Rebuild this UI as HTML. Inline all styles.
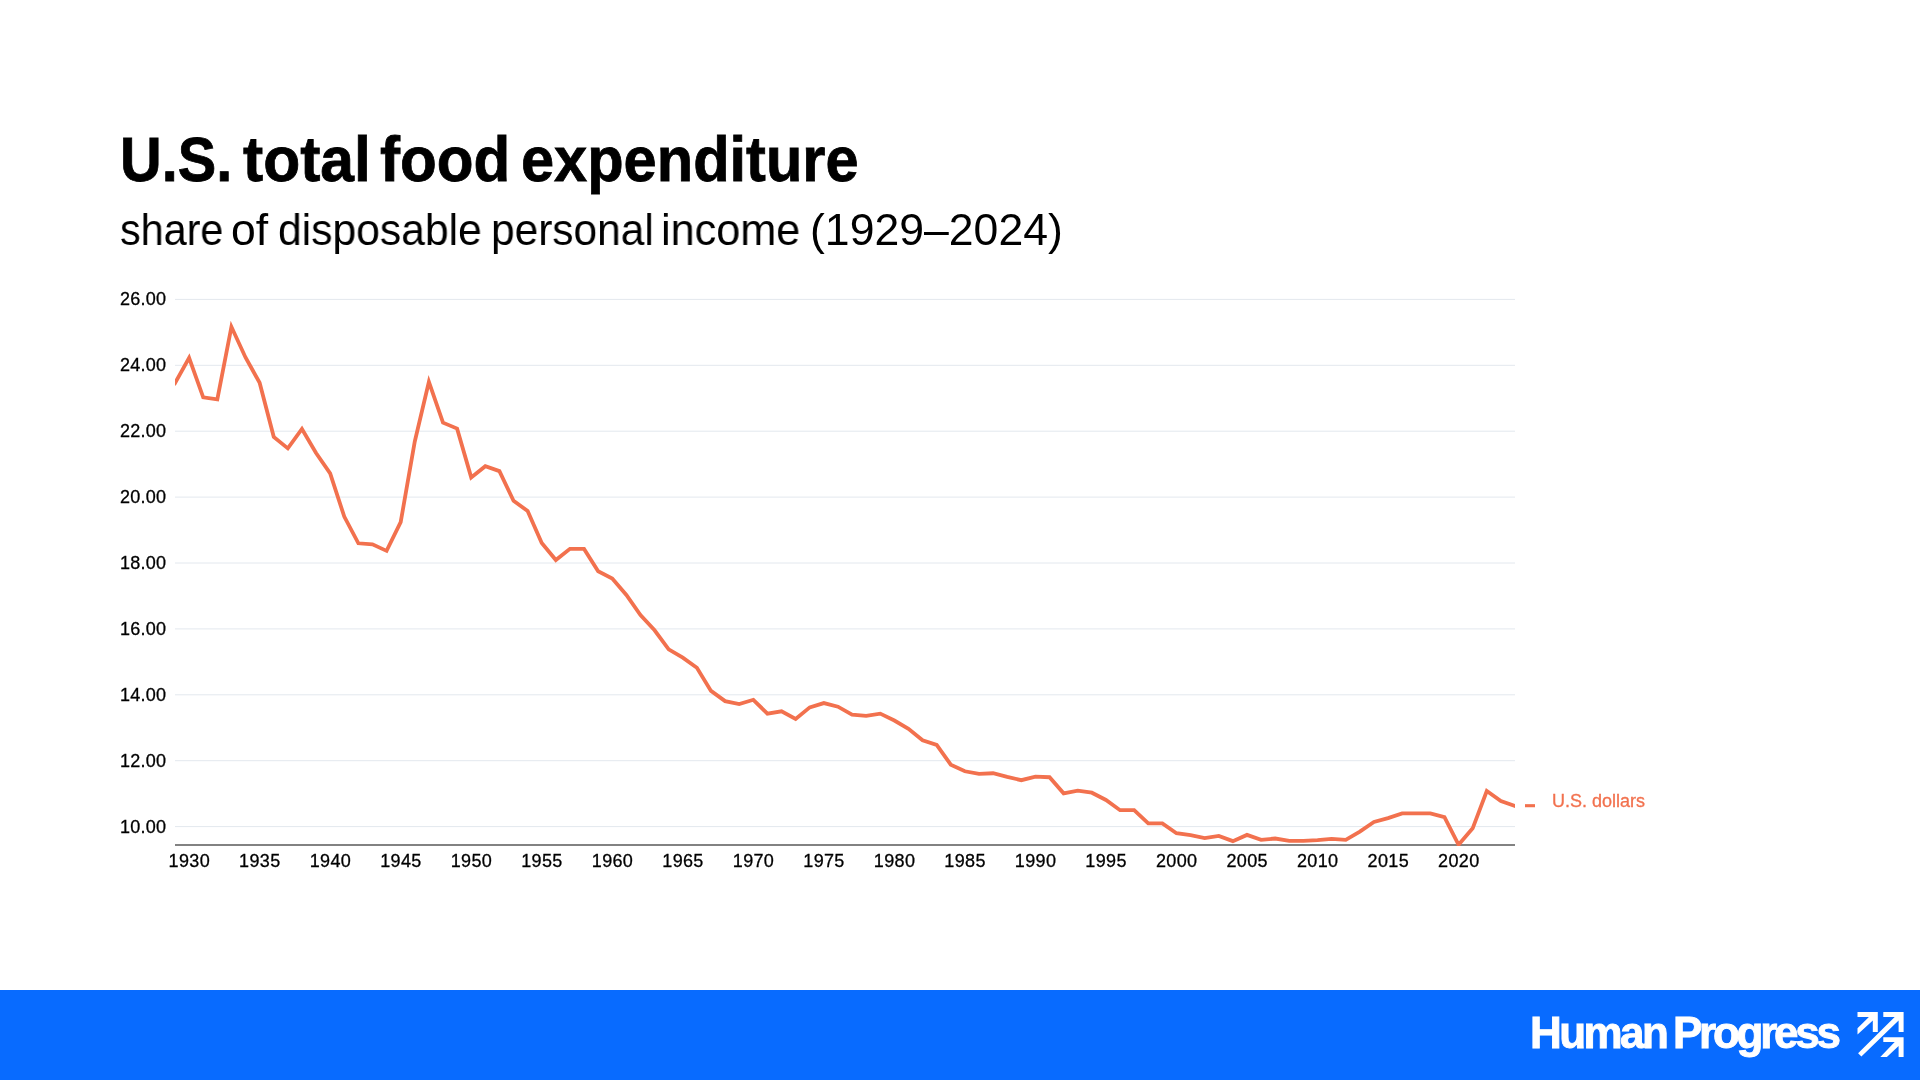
<!DOCTYPE html>
<html><head><meta charset="utf-8"><title>U.S. total food expenditure</title>
<style>
html,body{margin:0;padding:0;background:#fff;}
body{width:1920px;height:1080px;overflow:hidden;position:relative;font-family:"Liberation Sans",Arial,sans-serif;color:#000;}
h1,h2{position:absolute;left:0;margin:0;line-height:1;white-space:nowrap;}
h2 span,.brand span{will-change:transform;}
h1{top:128.4px;font-weight:700;font-size:63.5px;-webkit-text-stroke:0.8px #000;}
h2{top:208.3px;font-weight:400;font-size:44px;}
h1 span,h2 span,.brand span{position:absolute;top:0;transform-origin:0 0;}
svg.chart{position:absolute;left:0;top:0;will-change:transform;}
.grid line{stroke:#E3E8EE;stroke-width:1;}
.yl text,.xl text{font-family:"Liberation Sans",Arial,sans-serif;font-size:18px;fill:#000;stroke:#000;stroke-width:0.3px;}
.yl text{letter-spacing:0.25px;}
.xl text{letter-spacing:0.35px;}
.xl text{text-anchor:middle;}
footer{position:absolute;left:0;top:990px;width:1920px;height:90px;background:#086BFF;}
.brand{position:absolute;left:0;top:21.4px;color:#fff;font-weight:700;font-size:44px;line-height:1;white-space:nowrap;-webkit-text-stroke:0.9px #fff;}
</style></head>
<body>
<h1><span style="left:120.47px;transform:scaleX(0.9086)">U.S.</span> <span style="left:243.2px;transform:scaleX(0.9538)">total</span> <span style="left:380.3px;transform:scaleX(0.9477)">food</span> <span style="left:521.22px;transform:scaleX(0.9379)">expenditure</span></h1>
<h2><span style="left:120.16px;transform:scaleX(0.9393)">share</span> <span style="left:230.98px;transform:scaleX(1.0114)">of</span> <span style="left:278.06px;transform:scaleX(0.9681)">disposable</span> <span style="left:491.11px;transform:scaleX(0.9647)">personal</span> <span style="left:661.25px;transform:scaleX(0.9821)">income</span> <span style="left:809.96px;transform:scaleX(1.0131)">(1929–2024)</span></h2>
<svg class="chart" width="1920" height="990" viewBox="0 0 1920 990">
<g class="grid">
<line x1="175" x2="1515" y1="826.60" y2="826.60" />
<line x1="175" x2="1515" y1="760.70" y2="760.70" />
<line x1="175" x2="1515" y1="694.80" y2="694.80" />
<line x1="175" x2="1515" y1="628.90" y2="628.90" />
<line x1="175" x2="1515" y1="563.00" y2="563.00" />
<line x1="175" x2="1515" y1="497.10" y2="497.10" />
<line x1="175" x2="1515" y1="431.20" y2="431.20" />
<line x1="175" x2="1515" y1="365.30" y2="365.30" />
<line x1="175" x2="1515" y1="299.40" y2="299.40" />
</g>
<line x1="175" x2="1515" y1="845" y2="845" stroke="#828282" stroke-width="2"/>
<g class="yl">
<text x="166.3" y="832.9" text-anchor="end">10.00</text>
<text x="166.3" y="766.9" text-anchor="end">12.00</text>
<text x="166.3" y="700.9" text-anchor="end">14.00</text>
<text x="166.3" y="634.9" text-anchor="end">16.00</text>
<text x="166.3" y="568.9" text-anchor="end">18.00</text>
<text x="166.3" y="502.9" text-anchor="end">20.00</text>
<text x="166.3" y="436.9" text-anchor="end">22.00</text>
<text x="166.3" y="370.9" text-anchor="end">24.00</text>
<text x="166.3" y="304.9" text-anchor="end">26.00</text>
</g>
<g class="xl">
<text x="189.3" y="867">1930</text>
<text x="259.8" y="867">1935</text>
<text x="330.4" y="867">1940</text>
<text x="400.9" y="867">1945</text>
<text x="471.4" y="867">1950</text>
<text x="541.9" y="867">1955</text>
<text x="612.5" y="867">1960</text>
<text x="683.0" y="867">1965</text>
<text x="753.5" y="867">1970</text>
<text x="824.0" y="867">1975</text>
<text x="894.6" y="867">1980</text>
<text x="965.1" y="867">1985</text>
<text x="1035.6" y="867">1990</text>
<text x="1106.1" y="867">1995</text>
<text x="1176.7" y="867">2000</text>
<text x="1247.2" y="867">2005</text>
<text x="1317.7" y="867">2010</text>
<text x="1388.3" y="867">2015</text>
<text x="1458.8" y="867">2020</text>
</g>
<clipPath id="pc"><rect x="175" y="250" width="1340" height="596"/></clipPath>
<polyline clip-path="url(#pc)" points="175.00,383.14 189.11,357.77 203.21,397.31 217.32,399.29 231.42,326.80 245.53,357.44 259.63,382.81 273.74,436.85 287.84,448.38 301.95,428.94 316.05,453.00 330.16,473.43 344.26,516.59 358.37,543.28 372.47,544.27 386.58,550.86 400.68,522.19 414.79,441.46 428.89,381.82 443.00,422.68 457.11,428.61 471.21,477.38 485.32,466.18 499.42,471.12 513.53,500.77 527.63,510.99 541.74,542.95 555.84,560.08 569.95,548.88 584.05,548.88 598.16,571.29 612.26,578.54 626.37,595.01 640.47,615.11 654.58,630.27 668.68,649.38 682.79,657.62 696.89,667.83 711.00,690.90 725.11,701.11 739.21,704.08 753.32,699.79 767.42,713.63 781.53,711.33 795.63,718.90 809.74,707.37 823.84,703.09 837.95,706.71 852.05,714.62 866.16,715.94 880.26,713.63 894.37,720.55 908.47,728.79 922.58,740.32 936.68,744.93 950.79,764.70 964.89,771.29 979.00,773.93 993.11,773.27 1007.21,776.90 1021.32,780.19 1035.42,776.57 1049.53,777.23 1063.63,793.37 1077.74,790.73 1091.84,792.71 1105.95,799.96 1120.05,810.17 1134.16,810.17 1148.26,823.36 1162.37,823.36 1176.47,833.24 1190.58,835.22 1204.68,838.18 1218.79,835.88 1232.89,841.15 1247.00,834.89 1261.11,839.83 1275.21,838.51 1289.32,840.82 1303.42,840.82 1317.53,840.16 1331.63,838.84 1345.74,839.83 1359.84,831.59 1373.95,822.04 1388.05,818.08 1402.16,813.47 1416.26,813.47 1430.37,813.47 1444.47,817.09 1458.58,844.77 1472.68,828.30 1486.79,791.06 1500.89,800.95 1515.00,805.89" fill="none" stroke="#F2714E" stroke-width="3.8" stroke-linejoin="miter" stroke-linecap="square" stroke-miterlimit="10"/>
<line x1="1525" x2="1535" y1="805.7" y2="805.7" stroke="#F2714E" stroke-width="3.1"/>
<text x="1552" y="807" font-family="Liberation Sans, Arial, sans-serif" font-size="18" fill="#F2714E" stroke="#F2714E" stroke-width="0.3">U.S. dollars</text>
</svg>
<footer>
<div class="brand"><span style="left:1529.8px;letter-spacing:-2.58px">Human</span> <span style="left:1673.4px;letter-spacing:-3.25px">Progress</span></div>
<svg style="position:absolute;left:1850px;top:15px" width="60" height="60" viewBox="0 0 60 60" fill="#fff">
<polygon points="7.5,6.9 27.8,6.9 27.8,26.9 22.8,26.9 22.8,15.6 7.5,29.4 7.5,23.3 18.9,11.9 7.5,11.9"/>
<polygon points="33.3,6.9 53.6,6.9 53.6,26.9 48.6,26.9 48.6,15.6 11.4,51.4 8.1,48.3 44.7,11.9 33.3,11.9"/>
<polygon points="33.3,32.2 53.6,32.2 53.6,51.9 48.6,51.9 48.6,41.1 36.9,51.9 30.3,51.9 44.7,36.9 33.3,36.9"/>
</svg>
</footer>
</body></html>
